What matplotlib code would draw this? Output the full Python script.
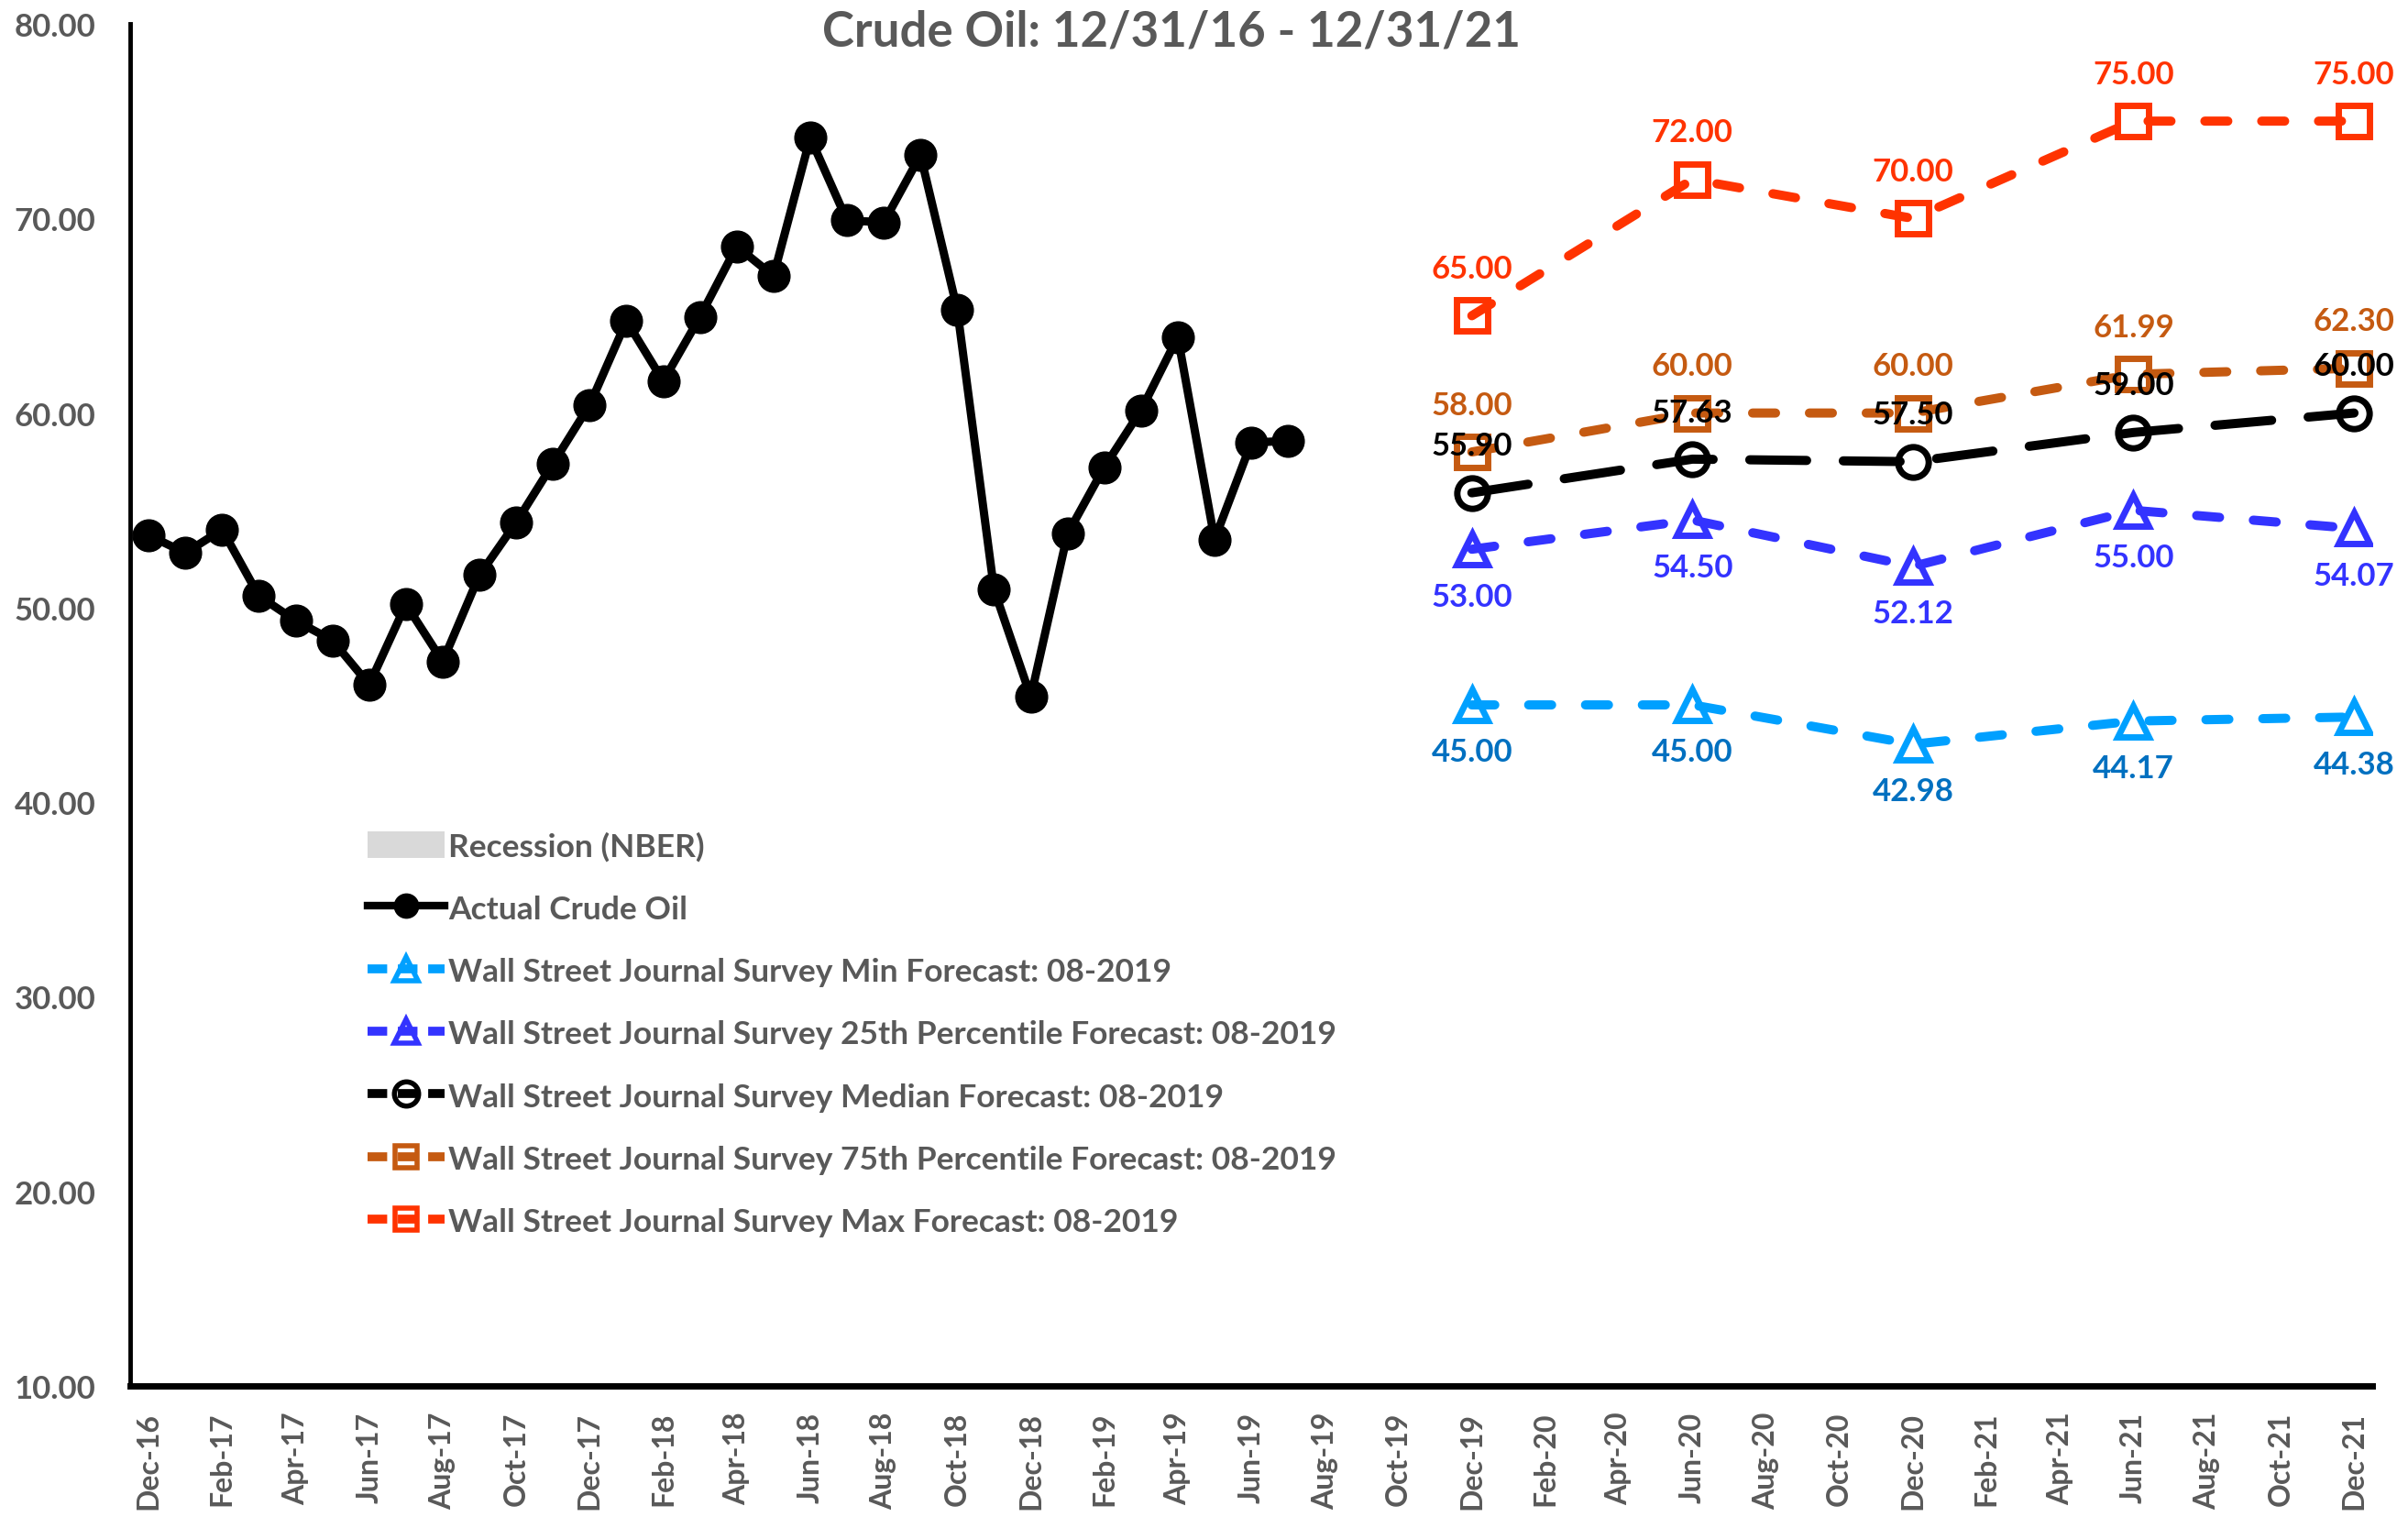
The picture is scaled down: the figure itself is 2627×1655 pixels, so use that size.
import matplotlib
matplotlib.use("Agg")
import matplotlib.pyplot as plt
from matplotlib.patches import Patch
from matplotlib.lines import Line2D

plt.rcParams['font.family'] = ['Lato', 'DejaVu Sans']
plt.rcParams['font.weight'] = 'bold'

# ---------------- data ----------------
month_labels = ["Dec-16", "Feb-17", "Apr-17", "Jun-17", "Aug-17", "Oct-17", "Dec-17",
                "Feb-18", "Apr-18", "Jun-18", "Aug-18", "Oct-18", "Dec-18", "Feb-19",
                "Apr-19", "Jun-19", "Aug-19", "Oct-19", "Dec-19", "Feb-20", "Apr-20",
                "Jun-20", "Aug-20", "Oct-20", "Dec-20", "Feb-21", "Apr-21", "Jun-21",
                "Aug-21", "Oct-21", "Dec-21"]
n_months = 61  # Dec-16 .. Dec-21 monthly

actual = [53.72, 52.81, 54.01, 50.60, 49.33, 48.32, 46.04, 50.17, 47.23, 51.67,
          54.38, 57.40, 60.42, 64.73, 61.64, 64.94, 68.57, 67.04, 74.15, 69.90,
          69.80, 73.25, 65.31, 50.93, 45.41, 53.79, 57.22, 60.14, 63.91, 53.50,
          58.47, 58.58]

fc_months = [36, 42, 48, 54, 60]   # Dec-19, Jun-20, Dec-20, Jun-21, Dec-21
fc_min = [45.00, 45.00, 42.98, 44.17, 44.38]
fc_p25 = [53.00, 54.50, 52.12, 55.00, 54.07]
fc_med = [55.90, 57.63, 57.50, 59.00, 60.00]
fc_p75 = [58.00, 60.00, 60.00, 61.99, 62.30]
fc_max = [65.00, 72.00, 70.00, 75.00, 75.00]

GRAY = "#595959"
C_MIN, C_MIN_TXT = "#00A0FF", "#0070C0"
C_P25 = "#3333FF"
C_MED = "#000000"
C_P75 = "#C55A11"
C_MAX = "#FF3300"

fig = plt.figure(figsize=(26.27, 16.56), dpi=100)
ax = fig.add_axes([0.0541, 0.0863, 0.9311, 0.8974])

ax.plot(range(len(actual)), actual, color="black", lw=6.5, marker="o", ms=25,
        solid_joinstyle="round", zorder=5)

short_dash = (2.5, 3.7)
long_dash = (6.2, 4.0)
series = [
    (fc_min, C_MIN, C_MIN_TXT, "^", -1, short_dash),
    (fc_p25, C_P25, C_P25, "^", -1, short_dash),
    (fc_med, C_MED, C_MED, "o", 1, long_dash),
    (fc_p75, C_P75, C_P75, "s", 1, short_dash),
    (fc_max, C_MAX, C_MAX, "s", 1, short_dash),
]
for vals, col, tcol, mk, side, dsh in series:
    ms = 24
    ax.plot(fc_months, vals, color=col, lw=7.2, dashes=dsh, dash_capstyle="round",
            marker=mk, ms=ms, mfc="none", mec=col, mew=5, zorder=4)
    for xm, v in zip(fc_months, vals):
        ax.annotate(f"{v:.2f}", (xm, v), xytext=(0, 37 * side), textcoords="offset points",
                    ha="center", va="center", fontsize=25, fontweight="bold", color=tcol,
                    zorder=6)

ax.set_xlim(-0.5, n_months - 0.5)
ax.set_ylim(10, 80)
ax.set_yticks(range(10, 81, 10))
ax.set_yticklabels([f"{v:.2f}" for v in range(10, 81, 10)])
ax.set_xticks(range(0, n_months, 2))
ax.set_xticklabels(month_labels, rotation=90)
ax.tick_params(axis="y", length=0, pad=27, labelsize=25, labelcolor=GRAY)
ax.tick_params(axis="x", length=0, pad=20, labelsize=23, labelcolor=GRAY)
for lab in ax.get_xticklabels() + ax.get_yticklabels():
    lab.set_fontweight("bold")

for s in ["top", "right"]:
    ax.spines[s].set_visible(False)
ax.spines["left"].set_linewidth(3.5)
ax.spines["bottom"].set_linewidth(5)

fig.text(0.4865, 0.979, "Crude Oil: 12/31/16 - 12/31/21", ha="center", va="center",
         fontsize=38, fontweight="bold", color=GRAY)

handles = [
    Patch(facecolor="#D9D9D9", edgecolor="none"),
    Line2D([], [], color="black", lw=6, marker="o", ms=19),
    Line2D([], [], color=C_MIN, lw=7, dashes=(2.2, 1.2), marker="^", ms=19, mfc="none", mew=4),
    Line2D([], [], color=C_P25, lw=7, dashes=(2.2, 1.2), marker="^", ms=19, mfc="none", mew=4),
    Line2D([], [], color=C_MED, lw=7, dashes=(2.2, 1.2), marker="o", ms=19, mfc="none", mew=4),
    Line2D([], [], color=C_P75, lw=7, dashes=(2.2, 1.2), marker="s", ms=17, mfc="none", mew=4),
    Line2D([], [], color=C_MAX, lw=7, dashes=(2.2, 1.2), marker="s", ms=17, mfc="none", mew=4),
]
labels = ["Recession (NBER)", "Actual Crude Oil",
          "Wall Street Journal Survey Min Forecast: 08-2019",
          "Wall Street Journal Survey 25th Percentile Forecast: 08-2019",
          "Wall Street Journal Survey Median Forecast: 08-2019",
          "Wall Street Journal Survey 75th Percentile Forecast: 08-2019",
          "Wall Street Journal Survey Max Forecast: 08-2019"]
leg = ax.legend(handles, labels, loc="upper left", bbox_to_anchor=(0.106, 0.4075),
                frameon=False, fontsize=25.5, handlelength=2.35, handletextpad=0.12,
                labelspacing=1.0, borderpad=0, borderaxespad=0, handleheight=0.9)
for t in leg.get_texts():
    t.set_color(GRAY)
    t.set_fontweight("bold")

fig.savefig("out.png", dpi=100)
